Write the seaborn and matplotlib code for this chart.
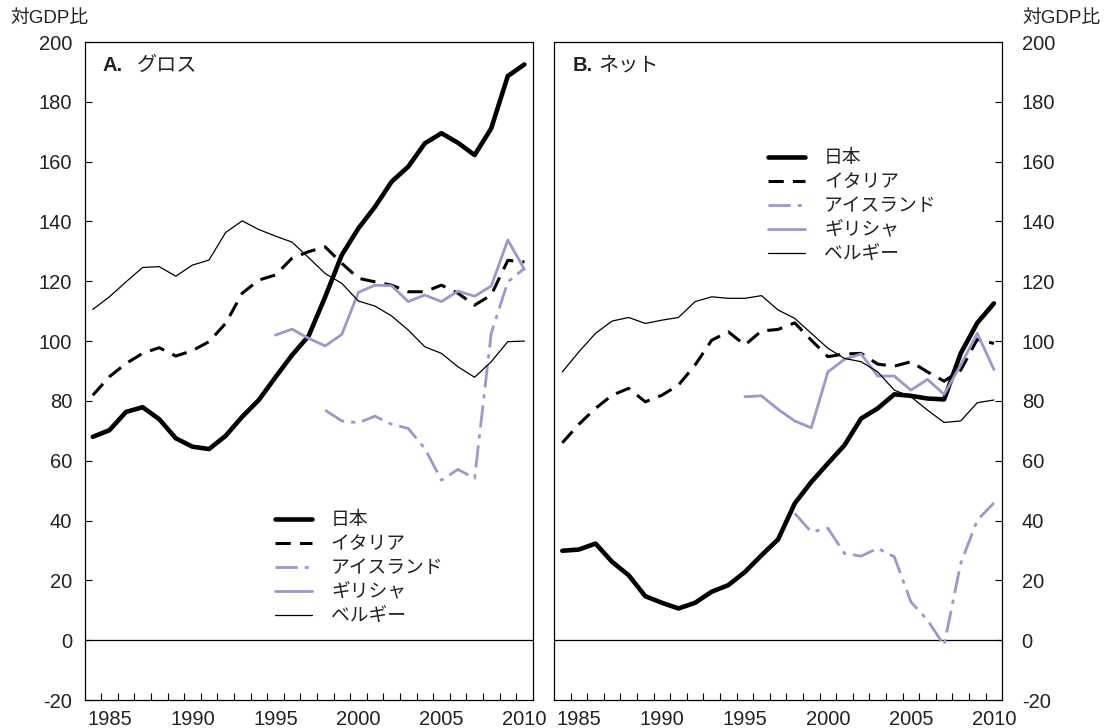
import numpy as np
import pandas as pd
import matplotlib
matplotlib.use("Agg")
import matplotlib.pyplot as plt
import seaborn as sns

# ---------------- data ----------------
years_full = list(range(1984, 2011))
years_greece = list(range(1995, 2011))
years_iceland = list(range(1998, 2011))

# Panel A: gross debt (% of GDP)
gross_japan = [68.0, 70.2, 76.3, 77.9, 73.9, 67.5, 64.7, 63.9, 68.3, 74.7, 80.3, 87.9, 95.3,
               101.7, 114.8, 128.8, 137.7, 144.9, 153.3, 158.3, 166.1, 169.5, 166.3, 162.2,
               171.1, 188.6, 192.5]
gross_italy = [81.9, 88.1, 92.5, 95.9, 97.8, 95.0, 96.8, 99.8, 105.9, 116.0, 120.4, 122.1, 127.7,
               129.9, 131.5, 126.0, 121.0, 119.8, 118.7, 116.5, 116.5, 118.7, 116.0, 112.0,
               115.4, 127.0, 126.5]
gross_belgium = [110.6, 114.8, 119.8, 124.6, 124.9, 121.7, 125.4, 127.1, 136.3, 140.2, 137.3,
                 135.1, 133.1, 127.9, 122.6, 119.3, 113.4, 111.7, 108.4, 103.7, 98.1, 95.9,
                 91.4, 87.9, 93.1, 99.8, 100.0]
gross_greece = [102.0, 104.0, 100.9, 98.4, 102.2, 116.3, 118.7, 118.5, 113.2, 115.4, 113.2,
                116.7, 115.0, 118.4, 133.8, 124.0]
gross_iceland = [76.9, 73.3, 72.7, 74.9, 72.2, 70.8, 64.1, 53.5, 57.1, 54.1, 102.6, 119.8, 124.3]

# Panel B: net debt (% of GDP)
net_japan = [29.9, 30.3, 32.3, 26.2, 21.7, 14.7, 12.5, 10.6, 12.5, 16.2, 18.4, 22.8, 28.4, 33.7,
             45.7, 52.9, 59.1, 65.2, 74.1, 77.5, 82.2, 81.7, 80.8, 80.5, 95.9, 106.1, 112.6]
net_italy = [66.0, 72.2, 77.5, 81.9, 84.2, 79.7, 81.9, 85.3, 92.0, 100.3, 103.1, 98.7, 103.4,
             103.9, 106.1, 100.3, 94.8, 95.7, 95.9, 92.3, 91.6, 93.1, 89.7, 86.6, 90.3, 100.6, 99.2]
net_belgium = [89.7, 96.4, 102.6, 106.7, 107.9, 105.9, 107.0, 107.9, 113.2, 114.8, 114.3, 114.3,
               115.2, 110.4, 107.6, 102.6, 97.6, 94.2, 93.1, 89.7, 83.6, 81.4, 76.9, 72.8, 73.3,
               79.4, 80.3]
net_greece = [81.4, 81.7, 77.2, 73.3, 71.0, 89.7, 93.9, 95.7, 88.3, 88.3, 83.6, 87.2, 82.2, 92.0,
              102.6, 90.5]
net_iceland = [42.4, 36.2, 37.4, 29.0, 28.1, 30.7, 27.9, 12.8, 6.7, -1.7, 25.7, 40.1, 45.9]

labels = ["日本", "イタリア", "アイスランド", "ギリシャ", "ベルギー"]
year_ticks = [1985, 1990, 1995, 2000, 2005, 2010]
y_ticks = list(range(-20, 201, 20))
panel_letters = ["A.", "B."]
panel_names = ["グロス", "ネット"]
unit_label = "対GDP比"

# ---------------- style ----------------
sns.set_theme(style="white")
plt.rcParams["font.family"] = ["Liberation Sans", "Noto Sans CJK JP", "DejaVu Sans"]
plt.rcParams["axes.unicode_minus"] = False

LAV = "#9b97cf"
styles = [
    dict(color="black", lw=3.3, linestyle="-"),
    dict(color="black", lw=2.2, linestyle=(0, (5, 3))),
    dict(color=LAV, lw=2.0, linestyle=(0, (8, 2.5, 1.5, 2.5))),
    dict(color=LAV, lw=2.0, linestyle="-"),
    dict(color="black", lw=0.9, linestyle="-"),
]
FS = 14.5
LFS = 13.5

W, H = 1104, 728
fig = plt.figure(figsize=(W / 100, H / 100), dpi=100)
axA = fig.add_axes([84.5 / W, 1 - 700 / H, 448.2 / W, 658 / H])
axB = fig.add_axes([554 / W, 1 - 700 / H, 448.2 / W, 658 / H])

panels = [
    (axA, [(years_full, gross_japan), (years_full, gross_italy), (years_iceland, gross_iceland),
           (years_greece, gross_greece), (years_full, gross_belgium)]),
    (axB, [(years_full, net_japan), (years_full, net_italy), (years_iceland, net_iceland),
           (years_greece, net_greece), (years_full, net_belgium)]),
]

for i, (ax, series) in enumerate(panels):
    for (yrs, vals), lab, st in zip(series, labels, styles):
        df = pd.DataFrame({"year": yrs, "value": vals})
        sns.lineplot(data=df, x="year", y="value", ax=ax, label=lab,
                     color=st["color"], lw=st["lw"], linestyle=st["linestyle"])
    ax.axhline(0, color="black", lw=0.9, zorder=1)
    ax.set_xlim(1983.5, 2010.5)
    ax.set_ylim(-20, 200)
    ax.set_xlabel("")
    ax.set_ylabel("")
    for s in ax.spines.values():
        s.set_color("black")
        s.set_linewidth(0.9)
    ax.set_xticks(year_ticks)
    ax.set_xticklabels([str(y) for y in year_ticks])
    ax.set_xticks(np.arange(1984.5, 2010, 1), minor=True)
    ax.tick_params(axis="x", which="major", length=0, pad=7, labelsize=FS, colors="#222222")
    ax.tick_params(axis="x", which="minor", direction="in", length=5, width=0.8, color="black",
                   bottom=True)
    ax.set_yticks(y_ticks)
    ax.set_yticklabels([str(v) for v in y_ticks])
    ax.tick_params(axis="y", which="major", direction="in", length=5, width=0.8, color="black",
                   labelsize=FS, labelcolor="#222222")
    ax.tick_params(axis="y", which="minor", length=0)
    if i == 0:
        ax.tick_params(axis="y", left=True, right=False, labelleft=True, labelright=False, pad=9)
    else:
        ax.yaxis.tick_right()
        ax.tick_params(axis="y", left=False, right=True, labelleft=False, labelright=True, pad=14)
        for t in ax.get_yticklabels():
            t.set_horizontalalignment("left")

# panel titles
axA.text(0.041, 0.965, panel_letters[0], transform=axA.transAxes, fontsize=FS,
         fontweight="bold", va="center", ha="left", color="#222222")
axA.text(0.1165, 0.965, panel_names[0], transform=axA.transAxes, fontsize=FS,
         va="center", ha="left", color="#222222")
axB.text(0.042, 0.965, panel_letters[1], transform=axB.transAxes, fontsize=FS,
         fontweight="bold", va="center", ha="left", color="#222222")
axB.text(0.098, 0.965, panel_names[1], transform=axB.transAxes, fontsize=FS,
         va="center", ha="left", color="#222222")

# legends
for ax, anchor in [(axA, (0.425, 0.2855)), (axB, (0.478, 0.8355))]:
    leg = ax.legend(loc="upper left", bbox_to_anchor=anchor, frameon=False, fontsize=LFS,
                    handlelength=1.98, handletextpad=1.0, labelspacing=0.36,
                    borderpad=0, borderaxespad=0)
    for t in leg.get_texts():
        t.set_color("#222222")

# unit labels
fig.text(10 / W, 1 - 18 / H, unit_label, fontsize=13.5, ha="left", va="center", color="#222222")
fig.text(1022 / W, 1 - 18 / H, unit_label, fontsize=13.5, ha="left", va="center", color="#222222")

fig.savefig("out.png", dpi=100)
